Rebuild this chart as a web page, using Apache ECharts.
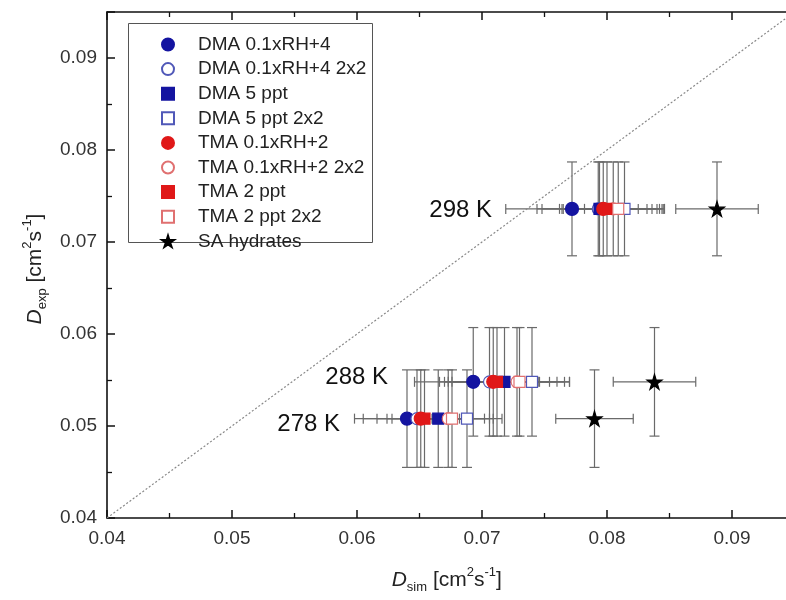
<!DOCTYPE html>
<html>
<head>
<meta charset="utf-8">
<script src="https://cdn.jsdelivr.net/npm/echarts@6/dist/echarts.min.js"></script>
<style>
html,body{margin:0;padding:0;background:#fff}
#main{width:786px;height:600px}
</style>
</head>
<body>
<div id="main"></div>
<script>
// rows: 278 K, 288 K, 298 K
var rowLabels = ['278 K', '288 K', '298 K'];
var dExp = [0.0508, 0.0548, 0.0736];
var dExpErr = [0.0053, 0.0059, 0.0051];

var seriesNames = ['DMA 0.1xRH+4', 'DMA 0.1xRH+4 2x2', 'DMA 5 ppt', 'DMA 5 ppt 2x2',
	'TMA 0.1xRH+2', 'TMA 0.1xRH+2 2x2', 'TMA 2 ppt', 'TMA 2 ppt 2x2', 'SA hydrates'];

var dmaRh = [0.0640, 0.0693, 0.0772];
var dmaRhErr = [0.0042, 0.0047, 0.0053];
var dmaRh22 = [0.0648, 0.0706, 0.0793];
var dmaRh22Err = [0.0043, 0.0040, 0.0049];
var dma5 = [0.0665, 0.0718, 0.0794];
var dma5Err = [0.0037, 0.0042, 0.0046];
var dma522 = [0.0688, 0.0740, 0.0814];
var dma522Err = [0.0028, 0.0030, 0.0032];
var tmaRh = [0.0651, 0.0709, 0.0797];
var tmaRhErr = [0.0035, 0.0036, 0.0035];
var tmaRh22 = [0.0673, 0.0728, 0.0805];
var tmaRh22Err = [0.0033, 0.0038, 0.0040];
var tma2 = [0.0654, 0.0712, 0.0800];
var tma2Err = [0.0030, 0.0042, 0.0036];
var tma222 = [0.0676, 0.0730, 0.0809];
var tma222Err = [0.0033, 0.0040, 0.0035];
var saHyd = [0.0790, 0.0838, 0.0888];
var saHydErr = [0.0031, 0.0033, 0.0033];

var diagonal = [[0.04, 0.04], [0.095, 0.095]];

var font = 'Liberation Sans, Arial, sans-serif';
var blue = '#1414a0', red = '#e01818';
var starPath = 'path://M50,0 L61,35 L98,35 L68,57 L79,91 L50,70 L21,91 L32,57 L2,35 L39,35 Z';

// looks per series: symbol, size, fill, border
var looks = [
	{symbol:'circle', size:13, fill:blue, border:blue},
	{symbol:'circle', size:12, fill:'#fff', border:'#5058b8'},
	{symbol:'rect', size:11, fill:blue, border:blue},
	{symbol:'rect', size:11, fill:'#fff', border:'#5058b8'},
	{symbol:'circle', size:13, fill:red, border:red},
	{symbol:'circle', size:12, fill:'#fff', border:'#e07070'},
	{symbol:'rect', size:11, fill:red, border:red},
	{symbol:'rect', size:11, fill:'#fff', border:'#e07070'},
	{symbol:starPath, size:15, fill:'#000', border:'#000'}
];
var xs = [dmaRh, dmaRh22, dma5, dma522, tmaRh, tmaRh22, tma2, tma222, saHyd];
var xErrs = [dmaRhErr, dmaRh22Err, dma5Err, dma522Err, tmaRhErr, tmaRh22Err, tma2Err, tma222Err, saHydErr];

function renderBar(params, api) {
	var x = api.value(0), y = api.value(1), ex = api.value(2), ey = api.value(3);
	var l = api.coord([x - ex, y]), r = api.coord([x + ex, y]);
	var t = api.coord([x, y + ey]), b = api.coord([x, y - ey]);
	var c = 5;
	var st = {stroke:'#6a6a6a', lineWidth:1.2};
	function seg(x1, y1, x2, y2) {
		return {type:'line', shape:{x1:x1, y1:y1, x2:x2, y2:y2}, style:st};
	}
	return {type:'group', children:[
		seg(l[0], l[1], r[0], r[1]),
		seg(t[0], t[1], b[0], b[1]),
		seg(l[0], l[1] - c, l[0], l[1] + c),
		seg(r[0], r[1] - c, r[0], r[1] + c),
		seg(t[0] - c, t[1], t[0] + c, t[1]),
		seg(b[0] - c, b[1], b[0] + c, b[1])
	]};
}

var series = [{
	type:'line', data:diagonal, symbol:'none', silent:true,
	lineStyle:{color:'#888', width:1.2, type:[2, 2]}
}];
for (var i = 0; i < seriesNames.length; i++) {
	var pts = [], bars = [];
	for (var k = 0; k < rowLabels.length; k++) {
		pts.push([xs[i][k], dExp[k]]);
		bars.push([xs[i][k], dExp[k], xErrs[i][k], dExpErr[k]]);
	}
	series.push({type:'custom', renderItem:renderBar, data:bars, silent:true,
		encode:{x:0, y:1}});
	series.push({
		name:seriesNames[i], type:'scatter', data:pts,
		symbol:looks[i].symbol, symbolSize:looks[i].size,
		itemStyle:{color:looks[i].fill, borderColor:looks[i].border, borderWidth:1.2, opacity:1}
	});
}

function tickFmt(v) {
	var r = Math.round(v * 100);
	if (Math.abs(v * 100 - r) > 1e-6) return '';
	return (r / 100).toFixed(2);
}

function axisBase(pos, showLabel) {
	return {
		type:'value', min:0.04, max:0.095, interval:0.01, position:pos,
		axisLine:{show:true, onZero:false, lineStyle:{color:'#111', width:1.6}},
		axisTick:{show:true, inside:true, length:8, lineStyle:{color:'#111', width:1.5}},
		minorTick:{show:true, splitNumber:2, length:5, lineStyle:{color:'#111', width:1.3}},
		splitLine:{show:false},
		axisLabel:{show:showLabel, fontSize:19, fontFamily:font, color:'#333', margin:11,
			formatter:tickFmt, showMaxLabel:false}
	};
}

var xMain = axisBase('bottom', true);
xMain.name = '{it|D}{sub|sim} [cm{sup|2}s{sup|-1}]';
xMain.nameLocation = 'middle';
xMain.nameGap = 48;
xMain.nameTextStyle = {fontSize:21, fontFamily:font, color:'#222', lineHeight:28,
	padding:[0, 8, 0, 0],
	rich:{
		it:{fontSize:21, fontStyle:'italic', fontFamily:font, color:'#222'},
		sub:{fontSize:13, fontFamily:font, color:'#222', verticalAlign:'bottom', lineHeight:13},
		sup:{fontSize:13, fontFamily:font, color:'#222', verticalAlign:'top', lineHeight:13}
	}};
var yMain = axisBase('left', true);
yMain.axisLabel.margin = 10;
yMain.name = '{it|D}{sub|exp} [cm{sup|2}s{sup|-1}]';
yMain.nameLocation = 'middle';
yMain.nameGap = 47;
yMain.nameTextStyle = xMain.nameTextStyle;

var option = {
	animation:false,
	backgroundColor:'#fff',
	grid:{left:107, top:12, width:687.5, bottom:82, outerBoundsMode:'none', containLabel:false},
	xAxis:[xMain, axisBase('top', false)],
	yAxis:[yMain, axisBase('right', false)],
	legend:{
		orient:'vertical', left:156, top:30, itemWidth:12, itemHeight:12, itemGap:5.6,
		data:seriesNames,
		textStyle:{fontSize:19, lineHeight:19, fontFamily:font, color:'#222', padding:[0, 0, 0, 19]}
	},
	graphic:[
		{type:'rect', left:128, top:23, z:-1, shape:{width:244, height:219},
			style:{fill:'#fff', stroke:'#555', lineWidth:1}},
		{type:'text', x:492, y:210, style:{text:rowLabels[2], align:'right', verticalAlign:'middle',
			fontSize:24, fontFamily:font, fill:'#111'}},
		{type:'text', x:388, y:377, style:{text:rowLabels[1], align:'right', verticalAlign:'middle',
			fontSize:24, fontFamily:font, fill:'#111'}},
		{type:'text', x:340, y:424, style:{text:rowLabels[0], align:'right', verticalAlign:'middle',
			fontSize:24, fontFamily:font, fill:'#111'}}
	],
	series:series
};

var chart = echarts.init(document.getElementById('main'));
chart.setOption(option);
</script>
</body>
</html>
